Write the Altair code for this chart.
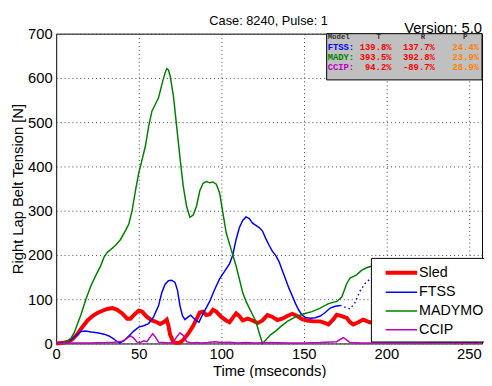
import altair as alt
import pandas as pd

series_names = ["Sled", "FTSS", "MADYMO", "CCIP"]
series_colors = ["#ff0000", "#0000ff", "#008000", "#bf00bf"]
series_widths = [4, 1.5, 1.5, 1.5]

sled_t = [0, 5, 8, 10, 13, 16, 19, 22, 25, 28, 31, 34, 37, 40, 43, 45, 47, 50, 52, 55, 58, 61, 63, 65, 67,
          68, 69, 71, 73, 75, 77, 80, 83, 85, 87, 89, 91, 93, 95, 97, 100, 103, 105, 107, 109, 111, 113,
          116, 119, 122, 125, 128, 131, 134, 137, 140, 143, 146, 149, 152, 156, 160, 163, 165, 168, 170,
          173, 176, 178, 180, 183, 186, 190, 200, 210, 220, 230, 235, 238, 240, 242, 244, 246, 248, 250,
          252, 254, 256, 258]
sled_v = [0, 2, 5, 10, 22, 38, 52, 62, 69, 74, 78, 80, 76, 68, 56, 56, 64, 74, 72, 60, 52, 48, 44, 48, 54,
          40, 20, 3, 1, 2, 8, 22, 40, 55, 70, 72, 64, 66, 76, 72, 60, 52, 48, 58, 68, 62, 52,
          56, 52, 46, 52, 64, 60, 53, 56, 62, 67, 62, 55, 52, 50, 50, 46, 43, 55, 65,
          62, 58, 48, 43, 48, 54, 48, 44, 50, 45, 40, 20, 8, 10, 4, 12, 3, 10, 5,
          12, 4, 9, 6]

ftss_t = [0, 5, 9, 12, 15, 18, 21, 25, 29, 32, 35, 37, 38.5, 41, 44, 47, 50, 53, 56, 59, 62, 64, 66, 68,
          70, 72, 73.5, 75, 76.5, 78, 80, 81.5, 83, 85, 86.5, 88, 90, 93, 96, 99, 102, 105, 107, 109, 111,
          113, 115, 117, 119, 121, 123, 125, 127, 129, 131, 133, 135, 137, 139, 141, 143, 145, 147, 149,
          151, 154, 157, 160, 163, 166, 169, 172]
ftss_v = [0, 2, 8, 18, 27, 28, 26, 24, 21, 17, 10, 4, 1, 6, 17, 28, 37, 40, 45, 60, 85, 115, 134, 142,
          143, 138, 120, 85, 63, 54, 60, 64, 58, 51, 48, 60, 74, 95, 122, 146, 163, 180, 200, 235, 262,
          278, 286, 282, 272, 267, 262, 254, 237, 222, 208, 199, 185, 165, 145, 125, 108, 90, 75, 64,
          59, 57, 58, 62, 70, 80, 84, 86]
ftss_tail_t = [172, 175, 178, 181, 184, 187, 190, 200, 210, 220, 230, 240, 250, 258]
ftss_tail_v = [86, 82, 78, 92, 118, 135, 145, 150, 140, 130, 120, 112, 106, 102]

mady_t = [0, 4, 7, 9, 11, 13, 15, 18, 21, 24, 27, 29, 31, 33, 36, 39, 42, 44, 46, 48, 50, 52, 54, 56, 58,
          60, 62, 64, 66, 67, 68, 69, 71, 73, 75, 77, 79, 81, 83, 85, 87, 89, 91, 93, 95, 97, 99, 101,
          103, 105, 107, 109, 111, 113, 115, 117, 119, 121, 122.5, 124, 125, 127, 130, 133, 136, 140,
          145, 150, 155, 160, 165, 170, 173, 176, 178, 182, 185, 188, 200, 220, 240, 258]
mady_v = [0, 1, 5, 12, 25, 45, 65, 100, 130, 154, 176, 195, 206, 212, 222, 235, 255, 270, 300, 345, 385,
          415, 445, 490, 525, 540, 555, 585, 612, 621, 618, 605, 560, 490, 420, 355, 310, 285, 290, 310,
          345, 362, 366, 363, 365, 360, 340, 295, 250, 225, 200, 175, 145, 115, 95, 80, 65, 50, 30, 12,
          0, 8, 20, 28, 38, 50, 60, 67, 72, 80, 90, 95, 105, 135, 148, 155, 165, 171, 185, 170, 140, 124]

ccip_t = [0, 10, 20, 30, 35, 40, 43, 45, 47, 49, 51, 53, 55, 57, 58.5, 60, 62, 65, 68, 71, 73, 75, 77,
          79, 82, 85, 88, 92, 96, 100, 105, 110, 115, 120, 130, 140, 150, 160, 170, 172, 174, 176, 178,
          185, 200, 220, 240, 258]
ccip_v = [0, 1, 1, 2, 3, 5, 12, 17, 12, 3, 2, 6, 4, 15, 22, 15, 3, 2, 1, 3, 15, 24, 18,
          4, 1, 2, 1, 2, 4, 2, 3, 1, 2, 1, 2, 1, 1, 2, 4, 9, 13, 8, 2,
          1, 1, 1, 2, 1]

x_ticks = [0, 50, 100, 150, 200, 250]
y_ticks = [0, 100, 200, 300, 400, 500, 600, 700]

table_header = ["Model", "T", "R", "P"]
table_models = ["FTSS:", "MADY:", "CCIP:"]
table_T = ["139.8%", "393.5%", "94.2%"]
table_R = ["137.7%", "392.8%", "-89.7%"]
table_P = ["24.4%", "23.9%", "28.9%"]
table_model_colors = ["#0000ff", "#008000", "#bf00bf"]

subtitle_text = "Case: 8240, Pulse: 1"
version_text = "Version: 5.0"

rows = []
for name, ts, vs in [("Sled", sled_t, sled_v), ("FTSS", ftss_t, ftss_v),
                     ("MADYMO", mady_t, mady_v), ("CCIP", ccip_t, ccip_v)]:
    for t, v in zip(ts, vs):
        rows.append({"series": name, "t": t, "v": v})
df = pd.DataFrame(rows)
tail_df = pd.DataFrame({"t": ftss_tail_t, "v": ftss_tail_v})

FONT = "Liberation Sans"

x_enc = alt.X("t:Q", scale=alt.Scale(domain=[0, 258], nice=False, zero=False),
              axis=alt.Axis(values=x_ticks, title="Time (mseconds)", grid=True, gridDash=[1, 3],
                            gridColor="#444444", gridOpacity=1, tickSize=0, domain=False,
                            labelFont=FONT, labelFontSize=15, labelColor="black", labelPadding=3,
                            titleFont=FONT, titleFontSize=15, titleFontWeight="normal",
                            titleColor="black", titlePadding=3, labelFlush=False))
y_enc = alt.Y("v:Q", scale=alt.Scale(domain=[0, 700], nice=False),
              axis=alt.Axis(values=y_ticks, title="Right Lap Belt Tension [N]", grid=True,
                            gridDash=[1, 3], gridColor="#444444", gridOpacity=1, tickSize=0,
                            domain=False, labelFont=FONT, labelFontSize=15, labelColor="black",
                            labelPadding=4, titleFont=FONT, titleFontSize=15,
                            titleFontWeight="normal", titleColor="black", titlePadding=2,
                            labelFlush=False))

leg = dict(title=None, orient="none", legendX=320, legendY=228, direction="vertical",
           symbolType="M0,0H4", symbolSize=256, labelOffset=24, padding=5,
           strokeColor="black", fillColor="white", labelFont=FONT, labelFontSize=14.5,
           labelColor="black", rowPadding=3, cornerRadius=0)

lines = alt.Chart(df).mark_line().encode(
    x=x_enc, y=y_enc,
    color=alt.Color("series:N", scale=alt.Scale(domain=series_names, range=series_colors),
                    legend=alt.Legend(**leg)),
    strokeWidth=alt.StrokeWidth("series:N", scale=alt.Scale(type="ordinal", domain=series_names,
                                                           range=series_widths),
                                legend=alt.Legend(**leg)),
)

tail = alt.Chart(tail_df).mark_line(color="#0000ff", strokeWidth=1.5, strokeDash=[1.5, 3]).encode(
    x="t:Q", y="v:Q")

def txt(s, x, y, **kw):
    return alt.Chart(pd.DataFrame({"s": [s]})).mark_text(**kw).encode(
        x=alt.value(x), y=alt.value(y), text="s:N")

box = alt.Chart(pd.DataFrame({"a": [0]})).mark_rect(fill="#c0c0c0", stroke="black", strokeWidth=1).encode(
    x=alt.value(275), x2=alt.value(433), y=alt.value(0), y2=alt.value(47))

layers = [lines, tail, box]
mono = dict(font="Liberation Mono", fontWeight="bold", fontSize=9, baseline="middle")
hdr = dict(font="Liberation Mono", fontWeight="bold", fontSize=7.5, baseline="middle")
layers.append(txt(table_header[0], 276, 3.5, align="left", color="#333333", **hdr))
for s, x in zip(table_header[1:], [328, 373, 416]):
    layers.append(txt(s, x, 3.5, align="center", color="#333333", **hdr))
for i in range(3):
    y = 13.5 + 10 * i
    layers.append(txt(table_models[i], 276, y, align="left", color=table_model_colors[i], **mono))
    layers.append(txt(table_T[i], 341, y, align="right", color="#ff0000", **mono))
    layers.append(txt(table_R[i], 385, y, align="right", color="#ff0000", **mono))
    layers.append(txt(table_P[i], 430, y, align="right", color="#ff8000", **mono))

layers.append(txt(subtitle_text, 216, -9, align="center", baseline="alphabetic", font=FONT,
                  fontSize=13, color="black"))
layers.append(txt(version_text, 433, -1, align="right", baseline="alphabetic", font=FONT,
                  fontSize=15, color="black"))

chart = alt.layer(*layers).properties(
    width=433, height=315,
    autosize=alt.AutoSizeParams(type="none"),
    padding={"left": 49, "top": 23, "right": 2, "bottom": 32},
    background="white",
).configure_view(stroke="black", strokeWidth=1)

chart.save("out.html", embed_options={"renderer": "svg", "actions": False})
